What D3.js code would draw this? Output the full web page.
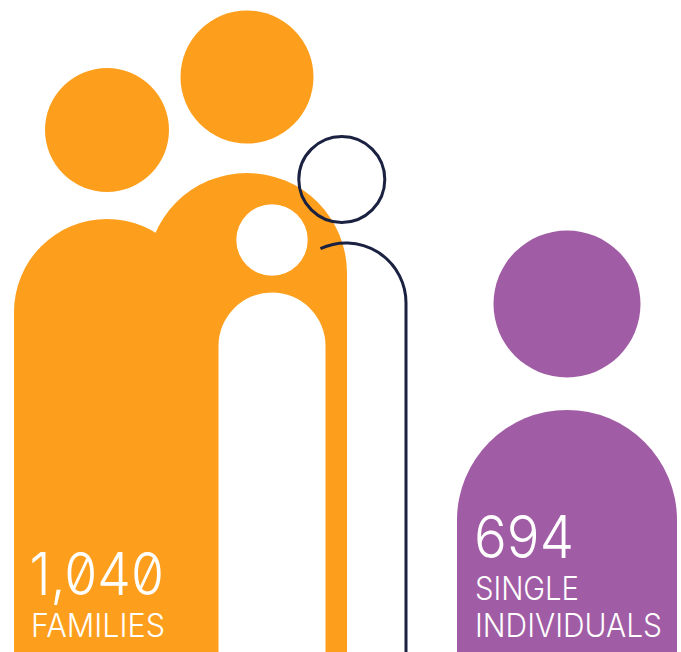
<!DOCTYPE html>
<html><head><meta charset="utf-8">
<script src="https://cdn.jsdelivr.net/npm/d3@7"></script>
<style>html,body{margin:0;padding:0;background:#fff;overflow:hidden}svg{display:block}
text{font-family:Inter,"Noto Sans",sans-serif;font-weight:350;fill:#fff;font-feature-settings:"zero" 1}</style>
</head><body><div id="c"></div>
<script>
const categories = ["FAMILIES", "SINGLE INDIVIDUALS"];
const values = [1040, 694];
const labelLines = [["FAMILIES"], ["SINGLE", "INDIVIDUALS"]];
const colors = ["#FD9F1C", "#A05CA4"];
const navy = "#1B2241";

const W = 681, H = 652;
const svg = d3.select("#c").append("svg").attr("width", W).attr("height", H);

function bodyPath(cx, r, top, bottom) {
  const p = d3.path();
  p.moveTo(cx - r, bottom);
  p.lineTo(cx - r, top + r);
  p.arc(cx, top + r, r, Math.PI, 2 * Math.PI);
  p.lineTo(cx + r, bottom);
  p.closePath();
  return p.toString();
}
const orange = svg.append("g").attr("fill", colors[0]);
orange.append("circle").attr("cx", 107).attr("cy", 130).attr("r", 62);
orange.append("circle").attr("cx", 247).attr("cy", 77).attr("r", 66.5);
orange.append("path").attr("d", bodyPath(107, 93, 219, H + 5));
orange.append("path").attr("d", bodyPath(247, 100, 173, H + 5));
const cut = svg.append("g").attr("fill", "#fff");
cut.append("circle").attr("cx", 272).attr("cy", 240).attr("r", 35.7);
cut.append("path").attr("d", bodyPath(272, 53.5, 292.5, H + 5));

const outline = svg.append("g").attr("fill", "none").attr("stroke", navy).attr("stroke-width", 3);
outline.append("circle").attr("cx", 341.8).attr("cy", 179.5).attr("r", 43);
const op = d3.path();
op.arc(346, 303, 60, -Math.PI / 2 - 0.44, 0);
op.lineTo(406, H + 5);
outline.append("path").attr("d", op.toString());

const purple = svg.append("g").attr("fill", colors[1]);
purple.append("circle").attr("cx", 567).attr("cy", 304).attr("r", 73.5);
purple.append("path").attr("d", bodyPath(567, 110, 410, H + 5));

const fmt = d3.format(",");
function label(txt, x, y, size, len) {
  svg.append("text").attr("x", x).attr("y", y).attr("font-size", size)
    .attr("textLength", len).attr("lengthAdjust", "spacingAndGlyphs").text(txt);
}
label(fmt(values[0]), 29.5, 595, 59, 134.5);
label(labelLines[0][0], 31, 637, 32, 134);
label(fmt(values[1]), 474, 558, 59, 100);
label(labelLines[1][0], 475, 600, 32, 104);
label(labelLines[1][1], 475, 637, 32, 187);
</script></body></html>
